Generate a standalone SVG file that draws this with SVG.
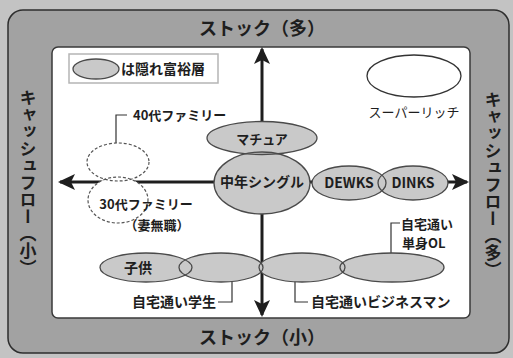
<svg xmlns="http://www.w3.org/2000/svg" xmlns:xlink="http://www.w3.org/1999/xlink" width="513" height="358" viewBox="0 0 513 358">
<style>
text{font-family:"Noto Sans CJK JP","Noto Sans",sans-serif;fill:#1e1e1e;font-weight:bold;stroke:none}
.title{font-size:18px}
.vt{font-size:17px;writing-mode:vertical-rl}
.lbl{font-size:14px}
.sm{font-size:13px}
.thin{font-weight:normal}
.mid{text-anchor:middle}
.end{text-anchor:end}
.fr{fill:#c9c9c9;stroke:none}
.fw{fill:#ffffff;stroke:none}
.node{fill:none;stroke:#4a4a4a;stroke-width:1.3}
.dnode{fill:none;stroke:#555;stroke-width:1.2;stroke-dasharray:3 2}
.axis{stroke:#1e1e1e;stroke-width:3;fill:none;marker-end:url(#arr)}
.lead{stroke:#333;stroke-width:1.2;fill:none}
</style>
<defs>
<marker id="arr" markerUnits="userSpaceOnUse" markerWidth="18" markerHeight="16" refX="15" refY="8" orient="auto">
<path d="M0,0 L17,8 L0,16 L4,8 z" fill="#1e1e1e"/>
</marker>
</defs>
<rect x="0" y="0" width="513" height="358" fill="#c3c3c3"/>
<rect x="8" y="10" width="501" height="343" rx="15" fill="#a2a2a2" stroke="#2e2e2e" stroke-width="1.5"/>
<rect x="52" y="47" width="418" height="271" rx="6" fill="#ffffff" stroke="#3a3a3a" stroke-width="1.5"/>

<text class="title mid" x="262" y="35">ストック（多）</text>
<text class="title mid" x="262" y="344">ストック（小）</text>
<text class="vt mid" x="28" y="183">キャッシュフロー（小）</text>
<text class="vt mid" x="493" y="185">キャッシュフロー（多）</text>

<g id="connectors">
<line class="axis" x1="262" y1="182" x2="262" y2="49"/>
<line class="axis" x1="262" y1="182" x2="262" y2="315"/>
<line class="axis" x1="262" y1="182" x2="60" y2="182"/>
<line class="axis" x1="262" y1="182" x2="467" y2="182"/>
<path class="lead" d="M127,115 H116 V157"/>
<path class="lead" d="M232,265 V302 H218"/>
<path class="lead" d="M295,270 V302 H308"/>
<path class="lead" d="M391,266 V223 H400"/>
</g>

<g id="legend">
<rect x="69" y="54" width="149" height="29" fill="#fff" stroke="#b5b5b5" stroke-width="1.5"/>
<ellipse class="fr" cx="96" cy="69" rx="23" ry="10"/>
<ellipse class="node" cx="96" cy="69" rx="23" ry="10"/>
<text class="lbl" x="121" y="74">は隠れ富裕層</text>
</g>

<g id="fills">
<use xlink:href="#e40" class="fw"/>
<use xlink:href="#e30" class="fw"/>
<use xlink:href="#e-mat" class="fr"/>
<use xlink:href="#e-mid" class="fr"/>
<use xlink:href="#e-dew" class="fr"/>
<use xlink:href="#e-din" class="fr"/>
<use xlink:href="#e-chi" class="fr"/>
<use xlink:href="#e-stu" class="fr"/>
<use xlink:href="#e-bus" class="fr"/>
<use xlink:href="#e-ol" class="fr"/>
</g>

<g id="super-rich">
<ellipse cx="414" cy="76" rx="47" ry="21" fill="#fff" stroke="#333" stroke-width="1.3"/>
<text class="sm thin mid" x="414" y="117">スーパーリッチ</text>
</g>

<g id="family40" class="dnode">
<ellipse id="e40" cx="118" cy="162" rx="31" ry="19"/>
<text class="sm" x="133" y="120">40代ファミリー</text>
</g>
<g id="family30" class="dnode">
<ellipse id="e30" cx="118" cy="200" rx="30" ry="23"/>
<text class="sm mid" x="146" y="209">30代ファミリー</text>
<text class="sm mid" x="157" y="230">（妻無職）</text>
</g>

<g id="mature" class="node">
<ellipse id="e-mat" cx="262" cy="138" rx="55" ry="16.5"/>
<text class="sm mid" x="262" y="144">マチュア</text>
</g>
<g id="middle-single" class="node">
<ellipse id="e-mid" cx="262" cy="183" rx="48" ry="31"/>
<text class="lbl mid" x="262" y="187">中年シングル</text>
</g>
<g id="dewks" class="node">
<ellipse id="e-dew" cx="349" cy="183" rx="37" ry="17"/>
<text class="lbl mid" x="349" y="188">DEWKS</text>
</g>
<g id="dinks" class="node">
<ellipse id="e-din" cx="413" cy="183" rx="35" ry="17"/>
<text class="lbl mid" x="413" y="188">DINKS</text>
</g>
<g id="child" class="node">
<ellipse id="e-chi" cx="146" cy="267.5" rx="46" ry="14.5"/>
<text class="lbl mid" x="138" y="273">子供</text>
</g>
<g id="student" class="node">
<ellipse id="e-stu" cx="221" cy="267.5" rx="42" ry="14.5"/>
<text class="lbl end" x="216" y="307">自宅通い学生</text>
</g>
<g id="businessman" class="node">
<ellipse id="e-bus" cx="302" cy="267.5" rx="43" ry="14.5"/>
<text class="lbl" x="311" y="307">自宅通いビジネスマン</text>
</g>
<g id="office-lady" class="node">
<ellipse id="e-ol" cx="392" cy="267.5" rx="52" ry="14.5"/>
<text class="sm" x="401" y="229">自宅通い</text>
<text class="sm" x="402" y="248">単身OL</text>
</g>
</svg>
